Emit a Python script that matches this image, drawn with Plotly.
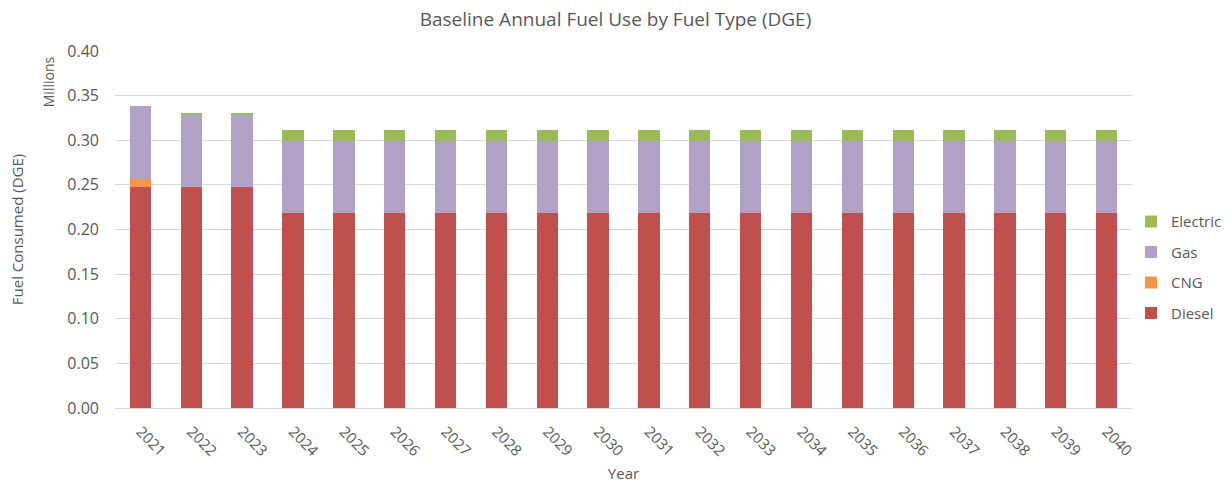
import plotly.graph_objects as go

years = [str(y) for y in range(2021, 2041)]
diesel = [0.248, 0.248, 0.248] + [0.219] * 17
cng = [0.009] + [0.0] * 19
gas = [0.081, 0.080, 0.080] + [0.080] * 17
electric = [0.0, 0.003, 0.003] + [0.012] * 17

# stacking order bottom→top, with legend rank (top entry first)
series = [
    ("Diesel", diesel, "#C0504D", 4),
    ("CNG", cng, "#F79646", 3),
    ("Gas", gas, "#B2A1C7", 2),
    ("Electric", electric, "#9BBB59", 1),
]

font_family = "Open Sans, Noto Sans, sans-serif"
text_color = "#595959"

fig = go.Figure()
for name, vals, color, rank in series:
    fig.add_trace(go.Bar(
        x=years, y=vals, name=name, legendgroup=name, legendrank=rank,
        marker=dict(color=color, line=dict(width=0)),
    ))

fig.update_layout(
    barmode="stack",
    bargap=0.58,
    width=1231, height=483,
    margin=dict(l=115, r=99, t=51, b=75, autoexpand=False),
    paper_bgcolor="white", plot_bgcolor="white",
    font=dict(family=font_family, color=text_color, size=15),
    title=dict(text="Baseline Annual Fuel Use by Fuel Type (DGE)",
               x=0.5, xref="container", y=1 - 19 / 483, yref="container",
               xanchor="center", yanchor="middle",
               font=dict(size=19, color=text_color)),
    legend=dict(traceorder="grouped", xref="container", x=1131 / 1231,
                xanchor="left", y=0.394, yanchor="middle", itemwidth=30,
                tracegroupgap=8, font=dict(size=15, color=text_color)),
    xaxis=dict(
        tickangle=45, showgrid=False, showline=True, automargin=False,
        linecolor="#D9D9D9", linewidth=1, ticks="",
        ticklabelstandoff=8,
        tickfont=dict(size=15, color=text_color),
        title=dict(text="Year", font=dict(size=15, color=text_color), standoff=10),
    ),
    yaxis=dict(
        range=[0, 0.4], dtick=0.05, tickformat=".2f", automargin=False,
        showgrid=True, gridcolor="#D9D9D9", gridwidth=1,
        zeroline=False, ticks="", ticklen=0,
        ticklabelstandoff=15,
        tickfont=dict(size=16, color=text_color),
        title=dict(text="Fuel Consumed (DGE)", font=dict(size=15, color=text_color), standoff=40),
    ),
)

fig.add_annotation(
    text="Millions", xref="paper", yref="paper",
    x=-0.066, y=0.915, showarrow=False, textangle=-90,
    font=dict(size=14, color=text_color), xanchor="center", yanchor="middle",
)

fig.write_html("out.html")
